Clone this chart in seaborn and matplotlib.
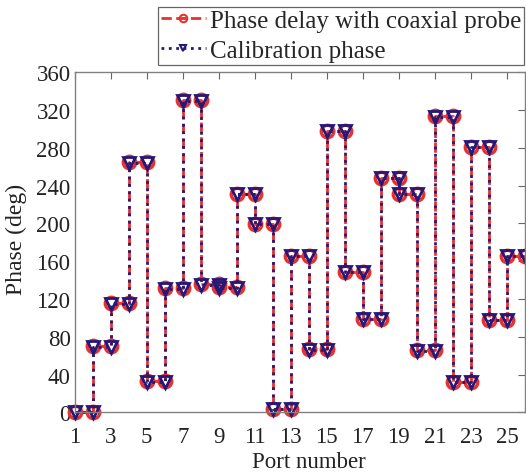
import numpy as np
import pandas as pd
import matplotlib
matplotlib.use("Agg")
import matplotlib.pyplot as plt
import seaborn as sns

# --- Data: phase per port (each port value held from port i to i+1) ---
ports = list(range(1, 26))
probe_phase = [0, 70, 116, 265, 33, 132, 331, 136, 133, 231, 199, 3, 165,
               67, 298, 149, 99, 248, 231, 66, 314, 32, 281, 98, 165]
calib_phase = [0, 69, 115, 264, 32, 131, 330, 135, 132, 231, 199, 3, 165,
               66, 298, 149, 99, 248, 231, 65, 313, 32, 281, 98, 165]
x_ticks = list(range(1, 26, 2))
y_ticks = list(range(0, 361, 40))


def expand(p, v):
    # two points per port: start and end of the held value
    xs, ys = [], []
    for pi, vi in zip(p, v):
        xs += [pi, pi + 1]
        ys += [vi, vi]
    return xs, ys


sns.set_style("white")
plt.rcParams['font.family'] = ['Liberation Serif', 'DejaVu Serif']

fig = plt.figure(figsize=(5.26, 4.77), dpi=100)
ax = fig.add_axes([0.142, 0.1335, 0.856, 0.7128])

px, py = expand(ports, probe_phase)
cx, cy = expand(ports, calib_phase)

red = '#e8302c'
navy = '#23197a'
sns.lineplot(x=px, y=py, estimator=None, sort=False, ax=ax, color=red,
             linestyle='--', linewidth=2, marker='o', markersize=9,
             markerfacecolor='none', markeredgecolor=red, markeredgewidth=2.4,
             label='Phase delay with coaxial probe', clip_on=False)
sns.lineplot(x=cx, y=cy, estimator=None, sort=False, ax=ax, color=navy,
             linestyle=':', linewidth=2, marker='v', markersize=8,
             markerfacecolor='none', markeredgecolor=navy, markeredgewidth=2,
             label='Calibration phase', clip_on=False)

ax.set_xlim(1, 26)
ax.set_ylim(0, 360)
ax.set_xticks(x_ticks)
ax.set_yticks(y_ticks)
ax.tick_params(direction='in', length=5, width=0.8, color='#666666',
               labelsize=16.5, top=True, right=True, labelcolor='#222222')
ax.tick_params(axis='y', pad=3)
ax.tick_params(axis='x', pad=10)
for s in ax.spines.values():
    s.set_color('#808080')
    s.set_linewidth(1)
ax.set_xlabel('Port number', fontsize=16.5, color='#222222')
ax.set_ylabel('Phase (deg)', fontsize=17, color='#222222')
ax.xaxis.set_label_coords(0.52, -0.115)
ax.yaxis.set_label_coords(-0.106, 0.51)

leg = ax.legend(loc='upper right', bbox_to_anchor=(524 / 526, 1 - 7.5 / 477),
                bbox_transform=fig.transFigure, fontsize=18,
                frameon=True, fancybox=False, edgecolor='#404040',
                handlelength=1.8, handletextpad=0.15, borderpad=0.12,
                labelspacing=0.3, borderaxespad=0, markerscale=0.6)
leg.get_frame().set_linewidth(0.9)
for h in leg.legend_handles:
    h.set_markeredgewidth(1.5)

fig.savefig('out.png', dpi=100)
